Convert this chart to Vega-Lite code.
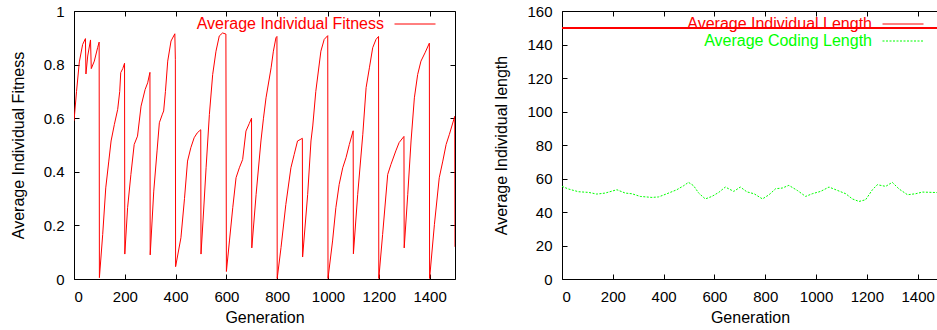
{
  "$schema": "https://vega.github.io/schema/vega-lite/v6.json",
  "padding": {"left": 9, "top": 2, "right": 0, "bottom": 0},
  "background": "white",
  "config": {
    "view": {"stroke": "#000000", "strokeWidth": 1},
    "font": "Liberation Sans",
    "axis": {
      "labelFont": "Liberation Sans", "titleFont": "Liberation Sans",
      "labelFontSize": 15, "titleFontSize": 16, "titleFontWeight": "normal",
      "labelColor": "#000000", "titleColor": "#000000", "tickColor": "#000000",
      "domain": false, "grid": false, "tickSize": -5, "labelPadding": 15
    },
    "legend": {
      "labelFont": "Liberation Sans", "labelFontSize": 16,
      "orient": "none", "padding": 0,
      "symbolType": "stroke", "symbolSize": 1681, "symbolStrokeWidth": 1,
      "labelAlign": "right", "labelOffset": -52, "labelLimit": 0
    }
  },
  "datasets": {
    "fitness": [
      {"gen": 0, "fit": 0.59}, {"gen": 10, "fit": 0.7}, {"gen": 21, "fit": 0.81}, {"gen": 34, "fit": 0.875},
      {"gen": 45, "fit": 0.897}, {"gen": 47, "fit": 0.765}, {"gen": 54, "fit": 0.832}, {"gen": 65, "fit": 0.892},
      {"gen": 68, "fit": 0.785}, {"gen": 80, "fit": 0.813}, {"gen": 93, "fit": 0.863}, {"gen": 99, "fit": 0.884},
      {"gen": 100, "fit": 0.005}, {"gen": 113, "fit": 0.166}, {"gen": 125, "fit": 0.34}, {"gen": 137, "fit": 0.44},
      {"gen": 146, "fit": 0.515}, {"gen": 159, "fit": 0.577}, {"gen": 172, "fit": 0.633}, {"gen": 180, "fit": 0.7},
      {"gen": 184, "fit": 0.77}, {"gen": 192, "fit": 0.785}, {"gen": 199, "fit": 0.805}, {"gen": 200, "fit": 0.093},
      {"gen": 211, "fit": 0.266}, {"gen": 224, "fit": 0.39}, {"gen": 237, "fit": 0.502}, {"gen": 250, "fit": 0.533},
      {"gen": 264, "fit": 0.645}, {"gen": 280, "fit": 0.707}, {"gen": 290, "fit": 0.732}, {"gen": 299, "fit": 0.771},
      {"gen": 300, "fit": 0.09}, {"gen": 314, "fit": 0.328}, {"gen": 327, "fit": 0.478}, {"gen": 336, "fit": 0.583},
      {"gen": 348, "fit": 0.615}, {"gen": 353, "fit": 0.627}, {"gen": 360, "fit": 0.7}, {"gen": 369, "fit": 0.813},
      {"gen": 382, "fit": 0.888}, {"gen": 397, "fit": 0.915}, {"gen": 399, "fit": 0.82}, {"gen": 400, "fit": 0.046},
      {"gen": 421, "fit": 0.154}, {"gen": 435, "fit": 0.3}, {"gen": 447, "fit": 0.44}, {"gen": 460, "fit": 0.49},
      {"gen": 473, "fit": 0.527}, {"gen": 485, "fit": 0.545}, {"gen": 493, "fit": 0.552}, {"gen": 499, "fit": 0.557},
      {"gen": 500, "fit": 0.093}, {"gen": 510, "fit": 0.25}, {"gen": 520, "fit": 0.415}, {"gen": 533, "fit": 0.614},
      {"gen": 546, "fit": 0.763}, {"gen": 559, "fit": 0.85}, {"gen": 572, "fit": 0.907}, {"gen": 585, "fit": 0.918},
      {"gen": 598, "fit": 0.914}, {"gen": 600, "fit": 0.028}, {"gen": 612, "fit": 0.142}, {"gen": 625, "fit": 0.266},
      {"gen": 638, "fit": 0.378}, {"gen": 651, "fit": 0.415}, {"gen": 664, "fit": 0.446}, {"gen": 677, "fit": 0.552},
      {"gen": 690, "fit": 0.58}, {"gen": 699, "fit": 0.6}, {"gen": 700, "fit": 0.116}, {"gen": 717, "fit": 0.316},
      {"gen": 736, "fit": 0.515}, {"gen": 746, "fit": 0.6}, {"gen": 756, "fit": 0.676}, {"gen": 776, "fit": 0.788},
      {"gen": 785, "fit": 0.85}, {"gen": 795, "fit": 0.9}, {"gen": 799, "fit": 0.905}, {"gen": 800, "fit": 0.002},
      {"gen": 815, "fit": 0.117}, {"gen": 834, "fit": 0.278}, {"gen": 854, "fit": 0.415}, {"gen": 867, "fit": 0.465},
      {"gen": 880, "fit": 0.515}, {"gen": 890, "fit": 0.52}, {"gen": 899, "fit": 0.525}, {"gen": 900, "fit": 0.082},
      {"gen": 920, "fit": 0.316}, {"gen": 933, "fit": 0.515}, {"gen": 940, "fit": 0.571}, {"gen": 952, "fit": 0.7},
      {"gen": 972, "fit": 0.85}, {"gen": 985, "fit": 0.894}, {"gen": 999, "fit": 0.908}, {"gen": 1000, "fit": 0.002},
      {"gen": 1018, "fit": 0.142}, {"gen": 1031, "fit": 0.266}, {"gen": 1044, "fit": 0.353}, {"gen": 1058, "fit": 0.415},
      {"gen": 1071, "fit": 0.453}, {"gen": 1084, "fit": 0.502}, {"gen": 1099, "fit": 0.553}, {"gen": 1100, "fit": 0.094},
      {"gen": 1117, "fit": 0.316}, {"gen": 1137, "fit": 0.54}, {"gen": 1150, "fit": 0.714}, {"gen": 1163, "fit": 0.788},
      {"gen": 1176, "fit": 0.863}, {"gen": 1189, "fit": 0.894}, {"gen": 1199, "fit": 0.905}, {"gen": 1200, "fit": 0.002},
      {"gen": 1215, "fit": 0.166}, {"gen": 1235, "fit": 0.39}, {"gen": 1248, "fit": 0.428}, {"gen": 1267, "fit": 0.478},
      {"gen": 1280, "fit": 0.509}, {"gen": 1299, "fit": 0.532}, {"gen": 1300, "fit": 0.116}, {"gen": 1314, "fit": 0.316},
      {"gen": 1327, "fit": 0.515}, {"gen": 1340, "fit": 0.676}, {"gen": 1353, "fit": 0.763}, {"gen": 1366, "fit": 0.813},
      {"gen": 1382, "fit": 0.844}, {"gen": 1399, "fit": 0.88}, {"gen": 1400, "fit": 0.002}, {"gen": 1419, "fit": 0.204},
      {"gen": 1438, "fit": 0.378}, {"gen": 1452, "fit": 0.44}, {"gen": 1465, "fit": 0.502}, {"gen": 1478, "fit": 0.54},
      {"gen": 1499, "fit": 0.607}, {"gen": 1500, "fit": 0.12}
    ],
    "coding": [
      {"gen": 0, "len": 55.3}, {"gen": 26, "len": 53.7}, {"gen": 65, "len": 52.1}, {"gen": 105, "len": 51.7},
      {"gen": 137, "len": 50.7}, {"gen": 170, "len": 51.3}, {"gen": 216, "len": 53.3}, {"gen": 249, "len": 51.3},
      {"gen": 275, "len": 50.9}, {"gen": 308, "len": 49.3}, {"gen": 354, "len": 48.7}, {"gen": 380, "len": 49.0},
      {"gen": 413, "len": 50.9}, {"gen": 452, "len": 53.3}, {"gen": 479, "len": 55.7}, {"gen": 498, "len": 57.7},
      {"gen": 518, "len": 55.7}, {"gen": 538, "len": 51.3}, {"gen": 564, "len": 47.8}, {"gen": 590, "len": 49.3},
      {"gen": 617, "len": 51.7}, {"gen": 643, "len": 54.9}, {"gen": 676, "len": 52.3}, {"gen": 702, "len": 54.9},
      {"gen": 728, "len": 52.0}, {"gen": 756, "len": 50.9}, {"gen": 789, "len": 47.8}, {"gen": 815, "len": 50.3},
      {"gen": 841, "len": 53.9}, {"gen": 867, "len": 54.3}, {"gen": 893, "len": 55.9}, {"gen": 926, "len": 52.9},
      {"gen": 959, "len": 49.3}, {"gen": 985, "len": 50.9}, {"gen": 1018, "len": 52.3}, {"gen": 1051, "len": 54.9},
      {"gen": 1084, "len": 52.9}, {"gen": 1117, "len": 50.9}, {"gen": 1143, "len": 47.8}, {"gen": 1169, "len": 46.3},
      {"gen": 1195, "len": 47.3}, {"gen": 1222, "len": 53.3}, {"gen": 1241, "len": 56.3}, {"gen": 1274, "len": 55.3},
      {"gen": 1300, "len": 57.7}, {"gen": 1327, "len": 53.7}, {"gen": 1360, "len": 50.3}, {"gen": 1392, "len": 50.9},
      {"gen": 1419, "len": 51.9}, {"gen": 1458, "len": 51.7}, {"gen": 1500, "len": 51.5}
    ]
  },
  "bounds": "flush",
  "spacing": 107,
  "resolve": {
    "scale": {"x": "independent", "y": "independent", "stroke": "independent"},
    "legend": {"stroke": "independent"}
  },
  "hconcat": [
    {
      "width": 381,
      "height": 268,
      "data": {"name": "fitness"},
      "resolve": {"axis": {"x": "independent", "y": "independent"}},
      "layer": [
        {
          "mark": {"type": "line", "strokeWidth": 1, "clip": true},
          "encoding": {
            "x": {"field": "gen", "type": "quantitative", "scale": {"domain": [0, 1500], "nice": false, "zero": false},
                  "axis": {"values": [0, 200, 400, 600, 800, 1000, 1200, 1400], "format": "d", "title": "Generation", "titlePadding": 5}},
            "y": {"field": "fit", "type": "quantitative", "scale": {"domain": [0, 1], "nice": false},
                  "axis": {"values": [0, 0.2, 0.4, 0.6, 0.8, 1], "format": "~g", "title": "Average Individual Fitness", "titlePadding": 17}},
            "stroke": {"datum": "Average Individual Fitness", "type": "nominal", "scale": {"range": ["#ff0000"]},
                       "legend": {"title": null, "legendX": 320, "legendY": -8, "labelColor": "#ff0000", "symbolStrokeColor": "#ff0000",
                                  "encode": {"symbols": {"update": {"stroke": {"value": "#ff0000"}, "opacity": {"value": 1}}}}}}
          }
        },
        {
          "mark": {"type": "line", "opacity": 0},
          "encoding": {
            "x": {"field": "gen", "type": "quantitative", "axis": {"orient": "top", "values": [0, 200, 400, 600, 800, 1000, 1200, 1400], "labels": false, "title": null}},
            "y": {"field": "fit", "type": "quantitative", "axis": {"orient": "right", "values": [0, 0.2, 0.4, 0.6, 0.8, 1], "labels": false, "title": null}}
          }
        }
      ]
    },
    {
      "width": 376,
      "height": 268,
      "resolve": {
        "axis": {"x": "independent", "y": "independent"},
        "scale": {"stroke": "independent"},
        "legend": {"stroke": "independent"}
      },
      "layer": [
        {
          "data": {"name": "coding"},
          "mark": {"type": "line", "strokeWidth": 1, "strokeDash": [2, 1.5], "clip": true},
          "encoding": {
            "x": {"field": "gen", "type": "quantitative", "scale": {"domain": [0, 1480], "nice": false, "zero": false},
                  "axis": {"values": [0, 200, 400, 600, 800, 1000, 1200, 1400], "format": "d", "title": "Generation", "titlePadding": 5}},
            "y": {"field": "len", "type": "quantitative", "scale": {"domain": [0, 160], "nice": false},
                  "axis": {"values": [0, 20, 40, 60, 80, 100, 120, 140, 160], "format": "d", "title": "Average Individual length", "titlePadding": 17}},
            "stroke": {"datum": "Average Coding Length", "type": "nominal", "scale": {"range": ["#00ff00"]},
                       "legend": {"title": null, "legendX": 320, "legendY": 9, "labelColor": "#00ff00", "symbolDash": [2, 1.5]}}
          }
        },
        {
          "data": {"name": "coding"},
          "mark": {"type": "rule", "strokeWidth": 1},
          "encoding": {
            "y": {"datum": 150, "type": "quantitative", "axis": null},
            "stroke": {"datum": "Average Individual Length", "type": "nominal", "scale": {"range": ["#ff0000"]},
                       "legend": {"title": null, "legendX": 320, "legendY": -8, "labelColor": "#ff0000", "symbolStrokeColor": "#ff0000",
                                  "encode": {"symbols": {"update": {"stroke": {"value": "#ff0000"}, "opacity": {"value": 1}}}}}}
          }
        },
        {
          "data": {"name": "coding"},
          "mark": {"type": "line", "opacity": 0},
          "encoding": {
            "x": {"field": "gen", "type": "quantitative", "axis": {"orient": "top", "values": [0, 200, 400, 600, 800, 1000, 1200, 1400], "labels": false, "title": null}},
            "y": {"field": "len", "type": "quantitative", "axis": null}
          }
        }
      ]
    }
  ]
}
